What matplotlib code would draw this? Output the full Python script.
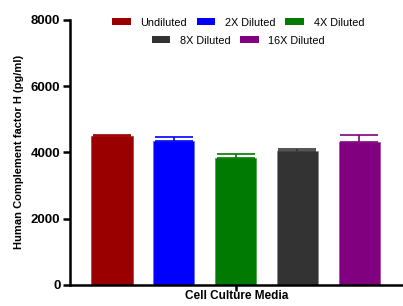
import numpy as np
import matplotlib
matplotlib.use("Agg")
import matplotlib.pyplot as plt
from matplotlib.patches import Patch

# data
groups = ["Undiluted", "2X Diluted", "4X Diluted", "8X Diluted", "16X Diluted"]
means = [4490, 4345, 3825, 4035, 4310]
errors = [35, 125, 140, 75, 215]
colors = ["#9B0000", "#0000FF", "#007A00", "#333333", "#800080"]
edges = ["#B84040", "#6A6AFF", "#4CA04C", "#888888", "#A050A0"]

plt.rcParams.update({
    "font.family": ["Liberation Sans", "DejaVu Sans"],
    "font.weight": "bold",
})

fig = plt.figure(figsize=(4.03, 3.06), dpi=100)
ax = fig.add_axes([0.174, 0.069, 0.826, 0.866])

x = np.arange(len(groups)) * 62.5
ax.bar(x, means, width=42, color=colors, edgecolor=edges, linewidth=0.6, zorder=2)
for xi, m, e, c in zip(x, means, errors, colors):
    ax.errorbar(xi, m, yerr=[[0], [e]], fmt="none", ecolor=c,
                elinewidth=1.2, capsize=14, capthick=1.2, zorder=3)

ax.set_xlim(x[0] - 22 - 20, x[-1] + 22 + 22)
ax.set_ylim(0, 8000)
ax.set_yticks([0, 2000, 4000, 6000, 8000])
ax.set_xticks([x[2]])
ax.set_xticklabels([""])
ax.set_xlabel("Cell Culture Media", fontsize=8.5, fontweight="bold", labelpad=-2)
ax.set_ylabel("Human Complement factor H (pg/ml)", fontsize=8, fontweight="bold", labelpad=5)

for s in ["top", "right"]:
    ax.spines[s].set_visible(False)
for s in ["left", "bottom"]:
    ax.spines[s].set_linewidth(1.8)
ax.tick_params(axis="both", width=1.8, length=5, labelsize=9.5, pad=2)
ax.tick_params(axis="x", length=4)
for lbl in ax.get_yticklabels():
    lbl.set_fontweight("bold")

handles = [Patch(facecolor=c, edgecolor="none") for c in colors]
leg_kw = dict(frameon=False, prop={"size": 7.8, "weight": "normal"},
              handlelength=1.7, handleheight=0.65, columnspacing=0.9,
              handletextpad=0.9, borderpad=0.2)
leg1 = ax.legend(handles[:3], groups[:3], ncol=3, loc="center",
                 bbox_to_anchor=(0.505, 0.99), **leg_kw)
ax.add_artist(leg1)
ax.legend(handles[3:], groups[3:], ncol=2, loc="center",
          bbox_to_anchor=(0.505, 0.922), **leg_kw)

fig.savefig("out.png", dpi=100, facecolor="white")
